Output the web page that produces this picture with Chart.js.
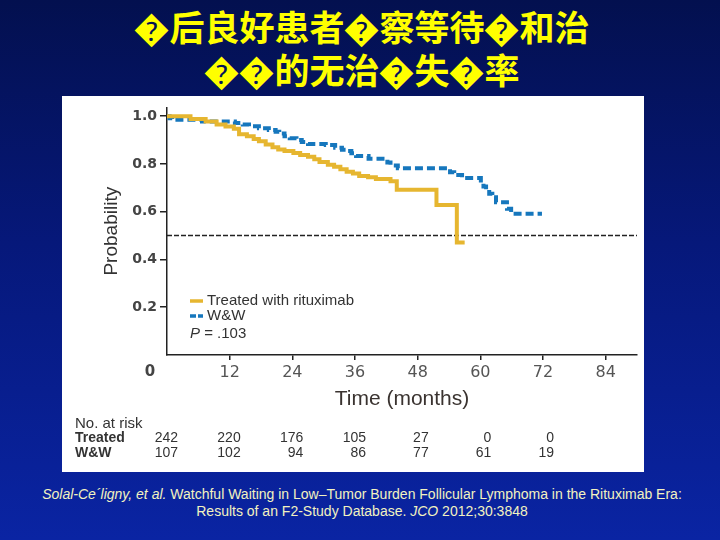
<!DOCTYPE html>
<html><head><meta charset="utf-8">
<script src="https://cdn.jsdelivr.net/npm/chart.js@4.4.1/dist/chart.umd.min.js"></script>
<style>
html,body{margin:0;padding:0;}
body{width:720px;height:540px;overflow:hidden;position:relative;background:linear-gradient(180deg,#03104f 0%,#06187a 45%,#0a24a3 100%);font-family:'Liberation Sans',Arial,sans-serif;}
#title{position:absolute;left:0;top:4px;width:724px;text-align:center;color:#ffff00;font-family:'Noto Sans CJK SC',sans-serif;font-weight:bold;font-size:35px;line-height:43px;white-space:nowrap;}
#panel{position:absolute;left:62px;top:96px;width:582px;height:376px;background:#fff;}
#cite{position:absolute;left:0;width:724px;top:486px;text-align:center;color:#f2f2c0;font-size:14px;line-height:17px;white-space:nowrap;}
</style></head>
<body>
<div id="title">�后良好患者�察等待�和治<br>��的无治�失�率</div>
<div id="panel"><canvas id="c" width="582" height="376"></canvas></div>
<div id="cite"><i>Solal-Ce´ligny, et al.</i> Watchful Waiting in Low–Tumor Burden Follicular Lymphoma in the Rituximab Era:<br>Results of an F2-Study Database. <i>JCO</i> 2012;30:3848</div>
<script>
// Kaplan-Meier step points (months, probability)
const treatedT = [0,4.5,7.4,9.5,11.2,12.8,13.8,15.3,16.6,17.6,18.9,20.2,21.3,22.5,24.2,25.5,27.0,28.2,29.2,30.8,32.0,33.2,34.4,35.6,36.8,38.5,40.0,42.8,44.0,51.6,55.5,57.0];
const treatedS = [1.0,0.988,0.978,0.965,0.957,0.948,0.925,0.916,0.905,0.895,0.882,0.870,0.861,0.854,0.846,0.838,0.830,0.820,0.808,0.797,0.788,0.778,0.768,0.760,0.750,0.744,0.737,0.728,0.692,0.628,0.471,0.471];
const wwT = [0,0.5,1.0,6.7,13.0,14.5,15.7,17.6,19.5,20.8,21.5,22.5,23.5,24.8,25.8,27.0,30.4,32.2,33.5,34.2,35.3,36.2,38.6,42.2,42.8,44.2,54.2,55.0,56.5,60.1,60.6,61.1,61.7,62.3,63.0,65.1,65.9,71.8];
const wwS = [1.0,0.992,0.985,0.978,0.972,0.965,0.958,0.950,0.942,0.935,0.928,0.916,0.908,0.900,0.892,0.884,0.879,0.868,0.860,0.854,0.845,0.833,0.822,0.806,0.794,0.782,0.765,0.754,0.741,0.722,0.706,0.693,0.675,0.661,0.640,0.613,0.592,0.592];
const medianLine = [0.5, 0.5];
const medianX = [0, 90];
const xTicks = [12,24,36,48,60,72,84];
const yTicks = [0.2,0.4,0.6,0.8,1.0];
const riskMonths = [0,12,24,36,48,60,72];
const riskTreated = [242,220,176,105,27,0,0];
const riskWW = [107,102,94,86,77,61,19];
const seriesNames = ['Treated with rituximab','W&W'];
const pText = '= .103';

const yellow = '#e6b630', blue = '#1677bd', ink = '#333333';

const overlay = {
  id:'overlay',
  afterDraw(chart){
    const {ctx, chartArea:a, scales:{x}} = chart;
    ctx.save();
    // "0" corner label
    ctx.fillStyle = '#444';
    ctx.font = 'bold 15px "DejaVu Sans"';
    ctx.textAlign = 'center'; ctx.textBaseline = 'middle';
    ctx.fillText('0', x.getPixelForValue(0) - 17, a.bottom + 17);
    // legend
    const lx = a.left + 23;
    const rows = [a.bottom - 54, a.bottom - 39, a.bottom - 21];
    ctx.lineWidth = 3.5;
    ctx.strokeStyle = yellow; ctx.setLineDash([]);
    ctx.beginPath(); ctx.moveTo(lx, rows[0]); ctx.lineTo(lx + 13, rows[0]); ctx.stroke();
    ctx.strokeStyle = blue; ctx.setLineDash([6,2]);
    ctx.beginPath(); ctx.moveTo(lx, rows[1]); ctx.lineTo(lx + 13, rows[1]); ctx.stroke();
    ctx.setLineDash([]);
    ctx.fillStyle = ink; ctx.textAlign = 'left';
    ctx.font = '15px "Liberation Sans"';
    ctx.fillText(seriesNames[0], lx + 17, rows[0]);
    ctx.fillText(seriesNames[1], lx + 17, rows[1]);
    ctx.font = 'italic 15px "Liberation Sans"';
    ctx.fillText('P', lx, rows[2]);
    const pw = ctx.measureText('P ').width;
    ctx.font = '15px "Liberation Sans"';
    ctx.fillText(pText, lx + pw, rows[2]);
    // number at risk table
    const t0 = a.bottom + 69;
    ctx.font = '15px "Liberation Sans"';
    ctx.fillText('No. at risk', 13, t0);
    ctx.font = 'bold 14px "Liberation Sans"';
    ctx.fillText('Treated', 13, t0 + 14);
    ctx.fillText('W&W', 13, t0 + 29);
    ctx.font = '14px "Liberation Sans"';
    ctx.textAlign = 'right';
    riskMonths.forEach((m, i) => {
      const px = x.getPixelForValue(m) + 11;
      ctx.fillText(String(riskTreated[i]), px, t0 + 14);
      ctx.fillText(String(riskWW[i]), px, t0 + 29);
    });
    ctx.restore();
  }
};

new Chart(document.getElementById('c'), {
  type:'line',
  data:{datasets:[
    {label:seriesNames[0], data:treatedT.map((t,i)=>({x:t,y:treatedS[i]})), borderColor:yellow, borderWidth:4, stepped:true, pointRadius:0, fill:false},
    {label:seriesNames[1], data:wwT.map((t,i)=>({x:t,y:wwS[i]})), borderColor:blue, borderWidth:4, borderDash:[8,4], stepped:true, pointRadius:0, fill:false},
    {label:'median', data:medianX.map((t,i)=>({x:t,y:medianLine[i]})), borderColor:'#222', borderWidth:1.5, borderDash:[5,2], pointRadius:0, fill:false}
  ]},
  options:{
    responsive:false, animation:false, devicePixelRatio:1,
    layout:{padding:{left:0,top:8,right:7,bottom:0}},
    plugins:{legend:{display:false}, tooltip:{enabled:false}},
    scales:{
      x:{type:'linear', min:0, max:90,
        afterBuildTicks(s){ s.ticks = xTicks.map(v=>({value:v})); },
        afterFit(s){ s.height = 117; },
        grid:{drawOnChartArea:false, drawTicks:true, tickLength:5, color:'#222', lineWidth:1.5},
        border:{display:true, color:'#222', width:1.5},
        ticks:{color:'#555', font:{family:'DejaVu Sans', size:16}, padding:3, maxRotation:0, autoSkip:false},
        title:{display:true, text:'Time (months)', color:'#3a3330', font:{family:'Liberation Sans', size:21}, padding:{top:0,bottom:60}}
      },
      y:{type:'linear', min:0, max:1.037,
        afterBuildTicks(s){ s.ticks = yTicks.map(v=>({value:v})); },
        afterFit(s){ s.width = 105; },
        grid:{drawOnChartArea:false, drawTicks:true, tickLength:7, color:'#222', lineWidth:1.5},
        border:{display:true, color:'#222', width:1.5},
        ticks:{color:'#444', font:{family:'DejaVu Sans', size:14, weight:'bold'}, padding:3, callback:v=>Number(v).toFixed(1)},
        title:{display:true, text:'Probability', color:'#333', font:{family:'Liberation Sans', size:19}, padding:{top:38,bottom:0}}
      }
    }
  },
  plugins:[overlay]
});
</script>
</body></html>
